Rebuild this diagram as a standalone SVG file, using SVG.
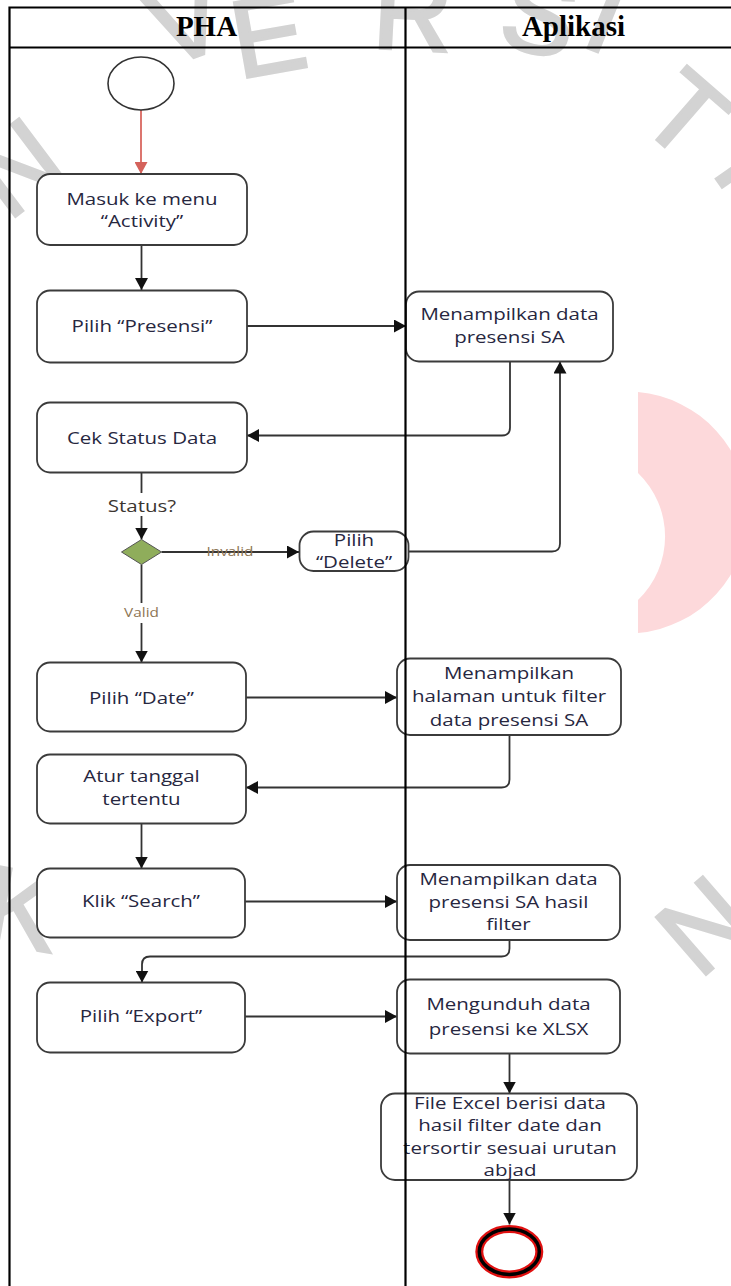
<svg xmlns="http://www.w3.org/2000/svg" width="731" height="1286" viewBox="0 0 731 1286">
  <defs>
    <style>
      .wm { font-family: "Liberation Sans", Arial, sans-serif; font-size: 110px; fill: #d3d3d3; stroke: #d3d3d3; stroke-width: 3; text-anchor: middle; }
      .box { fill: #ffffff; stroke: #3b3b3b; stroke-width: 1.8; }
      .t { font-family: "Open Sans", "Segoe UI", sans-serif; font-size: 16px; fill: #27273f; text-anchor: middle; }
      .lbl { font-family: "Open Sans", "Segoe UI", sans-serif; font-size: 12px; fill: #8d7453; text-anchor: middle; }
      .conn { fill: none; stroke: #333333; stroke-width: 1.8; }
      .hdr { font-family: "Liberation Serif", "Times New Roman", serif; font-size: 29px; font-weight: bold; fill: #000; text-anchor: middle; }
      .grid { fill: none; stroke: #000; stroke-width: 2.2; }
    </style>
    <marker id="arr" viewBox="0 0 12 13" refX="12" refY="6.5" markerWidth="12" markerHeight="13" markerUnits="userSpaceOnUse" orient="auto">
      <path d="M0,0 L12,6.5 L0,13 z" fill="#111"/>
    </marker>
    <marker id="arrRed" viewBox="0 0 12 13" refX="12" refY="6.5" markerWidth="12" markerHeight="13" markerUnits="userSpaceOnUse" orient="auto">
      <path d="M0,0 L12,6.5 L0,13 z" fill="#d4625b"/>
    </marker>
  </defs>

  <!-- background watermark -->
  <g id="watermark">
    <path d="M638,392 A121,121 0 0 1 638,633 L638,600 A88,88 0 0 0 638,473 Z" fill="#fdd9db"/>
    <text class="wm" transform="translate(16 166) rotate(-37)" y="40">N</text>
    <text class="wm" transform="translate(185 18) rotate(-20)" y="40">V</text>
    <text class="wm" transform="translate(268 33) rotate(-10)" y="40">E</text>
    <text class="wm" transform="translate(413 10) rotate(3)" y="40">R</text>
    <text class="wm" transform="translate(540 13) rotate(12)" y="40">S</text>
    <text class="wm" transform="translate(608 13) rotate(22)" y="40">I</text>
    <text class="wm" transform="translate(687 113) rotate(41)" y="40">T</text>
    <text class="wm" transform="translate(752 160) rotate(55)" y="40">Y</text>
    <text class="wm" transform="translate(703 924) rotate(-41)" y="40">N</text>
    <text class="wm" transform="translate(22 907) rotate(10)" y="40">K</text>
  </g>

  <!-- connectors -->
  <g id="connectors">
    <path d="M141,110 V174" fill="none" stroke="#d9675f" stroke-width="1.8" marker-end="url(#arrRed)"/>
    <path class="conn" d="M141.5,245 V290" marker-end="url(#arr)"/>
    <path class="conn" d="M247,326 H406" marker-end="url(#arr)"/>
    <path class="conn" d="M510,361.5 V427.5 Q510,435.5 502,435.5 H247" marker-end="url(#arr)"/>
    <path class="conn" d="M141.5,472.5 V493 M141.5,516 V539.5" marker-end="url(#arr)"/>
    <path class="conn" d="M161.5,552 H299" marker-end="url(#arr)"/>
    <path class="conn" d="M408.5,551.5 H552 Q560,551.5 560,543.5 V361.5" marker-end="url(#arr)"/>
    <path class="conn" d="M141.5,564.5 V603 M141.5,623 V662.5" marker-end="url(#arr)"/>
    <path class="conn" d="M246,697.5 H397" marker-end="url(#arr)"/>
    <path class="conn" d="M509.5,735 V779.5 Q509.5,787.5 501.5,787.5 H246" marker-end="url(#arr)"/>
    <path class="conn" d="M141.5,823.5 V868.5" marker-end="url(#arr)"/>
    <path class="conn" d="M245,901.5 H397" marker-end="url(#arr)"/>
    <path class="conn" d="M509.5,940 V948.5 Q509.5,956.5 501.5,956.5 H150 Q142,956.5 142,964.5 V982.5" marker-end="url(#arr)"/>
    <path class="conn" d="M245,1016.5 H397" marker-end="url(#arr)"/>
    <path class="conn" d="M509.5,1053.5 V1093.5" marker-end="url(#arr)"/>
    <path class="conn" d="M509.5,1180 V1224.5" marker-end="url(#arr)"/>
    <text class="t" transform="translate(142 511.5) scale(1.28 1)" style="fill:#3b3530">Status?</text>
    <text class="lbl" transform="translate(230 556) scale(1.28 1)">Invalid</text>
    <text class="lbl" transform="translate(141.5 617) scale(1.28 1)">Valid</text>
  </g>

  <g id="start">
    <ellipse cx="141" cy="83.5" rx="33" ry="26.5" fill="#fff" stroke="#333" stroke-width="1.6"/>
  </g>

  <g id="masuk-menu">
    <rect class="box" x="37" y="174" width="210" height="71" rx="13"/>
    <text class="t" transform="translate(142 204.5) scale(1.28 1)"><tspan x="0" y="0">Masuk ke menu</tspan><tspan x="0" y="23">“Activity”</tspan></text>
  </g>

  <g id="pilih-presensi">
    <rect class="box" x="37" y="290.5" width="210" height="72" rx="13"/>
    <text class="t" transform="translate(142 332) scale(1.28 1)">Pilih “Presensi”</text>
  </g>

  <g id="tampil-presensi">
    <rect class="box" x="406" y="291.5" width="207" height="70" rx="13"/>
    <text class="t" transform="translate(509.5 319.5) scale(1.28 1)"><tspan x="0" y="0">Menampilkan data</tspan><tspan x="0" y="24">presensi SA</tspan></text>
  </g>

  <g id="cek-status">
    <rect class="box" x="37" y="402.5" width="210" height="70" rx="13"/>
    <text class="t" transform="translate(142 443.5) scale(1.28 1)">Cek Status Data</text>
  </g>

  <g id="decision">
    <polygon points="141.5,539.5 161.5,552 141.5,564.5 121.5,552" fill="#8fad5b" stroke="#555" stroke-width="1"/>
  </g>

  <g id="pilih-delete">
    <rect class="box" x="299.5" y="531.5" width="109" height="39.5" rx="14"/>
    <text class="t" transform="translate(354 545.5) scale(1.28 1)"><tspan x="0" y="0">Pilih</tspan><tspan x="0" y="23">“Delete”</tspan></text>
  </g>

  <g id="pilih-date">
    <rect class="box" x="37" y="662.5" width="209" height="69" rx="13"/>
    <text class="t" transform="translate(141.5 703.5) scale(1.28 1)">Pilih “Date”</text>
  </g>

  <g id="tampil-filter">
    <rect class="box" x="397" y="658.5" width="224" height="76.5" rx="13"/>
    <text class="t" transform="translate(509 678.5) scale(1.28 1)"><tspan x="0" y="0">Menampilkan</tspan><tspan x="0" y="24">halaman untuk filter</tspan><tspan x="0" y="47.5">data presensi SA</tspan></text>
  </g>

  <g id="atur-tanggal">
    <rect class="box" x="37" y="754.5" width="209" height="69" rx="13"/>
    <text class="t" transform="translate(141.5 781.5) scale(1.28 1)"><tspan x="0" y="0">Atur tanggal</tspan><tspan x="0" y="24">tertentu</tspan></text>
  </g>

  <g id="klik-search">
    <rect class="box" x="37" y="868.5" width="208" height="69" rx="13"/>
    <text class="t" transform="translate(141 906.5) scale(1.28 1)">Klik “Search”</text>
  </g>

  <g id="tampil-hasil">
    <rect class="box" x="397" y="865" width="223" height="75" rx="13"/>
    <text class="t" transform="translate(508.5 885) scale(1.28 1)"><tspan x="0" y="0">Menampilkan data</tspan><tspan x="0" y="23.5">presensi SA hasil</tspan><tspan x="0" y="45.5">filter</tspan></text>
  </g>

  <g id="pilih-export">
    <rect class="box" x="37" y="982.5" width="208" height="70" rx="13"/>
    <text class="t" transform="translate(141 1021.5) scale(1.28 1)">Pilih “Export”</text>
  </g>

  <g id="unduh-xlsx">
    <rect class="box" x="397" y="979.5" width="223" height="74" rx="13"/>
    <text class="t" transform="translate(508.5 1010) scale(1.28 1)"><tspan x="0" y="0">Mengunduh data</tspan><tspan x="0" y="25">presensi ke XLSX</tspan></text>
  </g>

  <g id="file-excel">
    <rect class="box" x="381" y="1093.5" width="256" height="86.5" rx="14"/>
    <text class="t" transform="translate(510 1108.5) scale(1.28 1)"><tspan x="0" y="0">File Excel berisi data</tspan><tspan x="0" y="23">hasil filter date dan</tspan><tspan x="0" y="45.5">tersortir sesuai urutan</tspan><tspan x="0" y="68">abjad</tspan></text>
  </g>

  <g id="end">
    <ellipse cx="509.3" cy="1251.7" rx="30" ry="22.7" fill="#fff" stroke="#e01010" stroke-width="8"/>
    <ellipse cx="509.3" cy="1251.7" rx="30" ry="22.7" fill="none" stroke="#000" stroke-width="3.5"/>
  </g>

  <!-- swimlane table -->
  <g id="lanes">
    <path class="grid" d="M9.5,7.5 H731 M9.5,47.5 H731 M9.5,6.5 V1286 M405.5,6.5 V1286"/>
    <text class="hdr" x="206.5" y="36">PHA</text>
    <text class="hdr" x="573.5" y="36">Aplikasi</text>
  </g>
</svg>
